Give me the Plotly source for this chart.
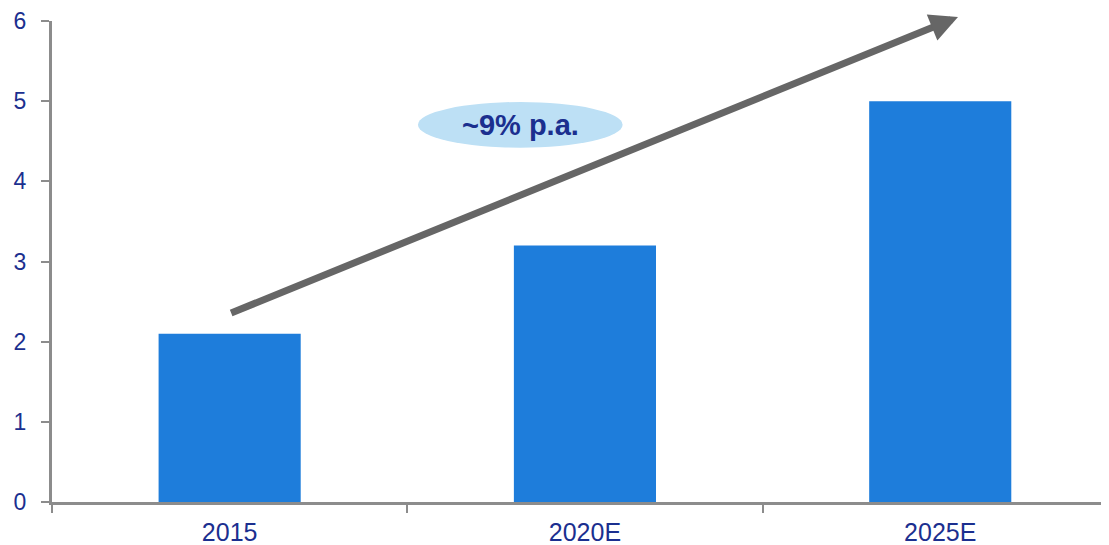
import plotly.graph_objects as go

categories = ["2015", "2020E", "2025E"]
values = [2.1, 3.2, 5.0]
y_ticks = [0, 1, 2, 3, 4, 5, 6]
label_text = "~9% p.a."

NAVY = "#1B2F8F"
GRAY = "#8C8C8C"

fig = go.Figure()
fig.add_trace(go.Bar(
    x=categories, y=values,
    marker=dict(color="#1E7DDB", line=dict(width=0)),
    width=0.4,
))

fig.update_layout(
    width=1109, height=545,
    margin=dict(l=44, r=8, t=13, b=51),
    paper_bgcolor="white", plot_bgcolor="white",
    showlegend=False,
    font=dict(family="Liberation Sans, Arial, sans-serif", color=NAVY),
)
fig.update_xaxes(
    type="category", range=[-0.5, 2.475], automargin=False,
    showline=True, linecolor=GRAY, linewidth=3,
    ticks="outside", tickson="boundaries", ticklen=8, tickwidth=2, tickcolor=GRAY,
    ticklabelstandoff=6, ticklabeloverflow="allow",
    tickfont=dict(size=25, color=NAVY), showgrid=False, zeroline=False,
)
fig.update_yaxes(
    range=[0, 6], tickvals=y_ticks, automargin=False,
    showline=True, linecolor=GRAY, linewidth=3,
    ticks="outside", ticklen=8, tickwidth=2, tickcolor=GRAY,
    ticklabelstandoff=10, ticklabeloverflow="allow",
    tickfont=dict(size=23, color=NAVY), showgrid=False, zeroline=False,
)

# ellipse behind label
fig.add_shape(type="circle", xref="x", yref="y",
              x0=0.53, x1=1.106, y0=4.42, y1=4.99,
              fillcolor="#BDE0F5", line=dict(width=0), layer="above")
fig.add_annotation(x=0.818, y=4.70, xref="x", yref="y", text="<b>" + label_text + "</b>",
                   showarrow=False, font=dict(size=29, color=NAVY))

# growth arrow
fig.add_annotation(x=2.05, y=6.05, ax=0.0, ay=2.35, xref="x", yref="y", axref="x", ayref="y",
                   text="", showarrow=True, arrowhead=2, arrowsize=0.8, arrowwidth=7,
                   arrowcolor="#666666", standoff=0, startstandoff=0)

fig.write_html("out.html")
